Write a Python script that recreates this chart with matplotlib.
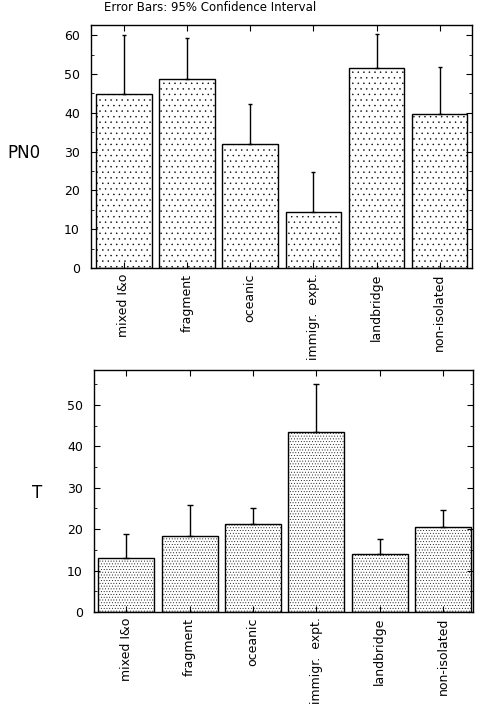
import numpy as np
import matplotlib
matplotlib.use("Agg")
import matplotlib.pyplot as plt

# categories and values
cats = ["mixed I&o", "fragment", "oceanic", "immigr.  expt.", "landbridge", "non-isolated"]
pn0_mean = [44.9, 48.8, 32.0, 14.3, 51.4, 39.6]
pn0_upper = [60.0, 59.2, 42.3, 24.8, 60.3, 51.8]
t_mean = [13.1, 18.4, 21.2, 43.4, 13.9, 20.5]
t_upper = [18.8, 25.7, 25.0, 55.1, 17.6, 24.6]

plt.rcParams['font.family'] = ['DejaVu Sans']
plt.rcParams['hatch.linewidth'] = 0.3

fig = plt.figure(figsize=(4.82, 7.07), dpi=100)
ax1 = fig.add_axes([0.189, 0.621, 0.790, 0.3436])
ax2 = fig.add_axes([0.195, 0.1344, 0.786, 0.3423])

x = np.arange(len(cats))


def draw(ax, means, upper, ylim, xlim, hatch, cap):
    means = np.array(means)
    err = np.array(upper) - means
    ax.bar(x, means, width=0.88, color="white", edgecolor="black",
           linewidth=1.0, hatch=hatch)
    ax.errorbar(x, means, yerr=[np.zeros_like(err), err], fmt="none",
                ecolor="black", elinewidth=1.0, capsize=cap, capthick=1.0)
    ax.set_xlim(*xlim)
    ax.set_ylim(*ylim)
    ax.set_xticks(x)
    ax.set_xticklabels(cats, rotation=90, fontsize=9)
    ax.set_yticks(np.arange(0, ylim[1], 10))
    ax.set_yticks(np.arange(5, ylim[1], 5), minor=True)
    ax.tick_params(axis="y", which="major", direction="in", length=4,
                   right=True, labelsize=9, pad=8)
    ax.tick_params(axis="y", which="minor", direction="in", length=2.5, right=True)
    ax.tick_params(axis="x", direction="in", length=4, top=True, pad=4)
    for s in ax.spines.values():
        s.set_linewidth(1.0)


draw(ax1, pn0_mean, pn0_upper, (0, 62.6), (-0.52, 5.51), "...", 1.5)
draw(ax2, t_mean, t_upper, (0, 58.4), (-0.51, 5.47), "......", 2.5)

fig.text(0.05, 0.783, "PN0", fontsize=12, ha="center", va="center")
fig.text(0.077, 0.303, "T", fontsize=12, ha="center", va="center")
fig.text(0.435, 0.989, "Error Bars: 95% Confidence Interval", fontsize=8.5,
         ha="center", va="center")

fig.savefig("out.png", dpi=100)
